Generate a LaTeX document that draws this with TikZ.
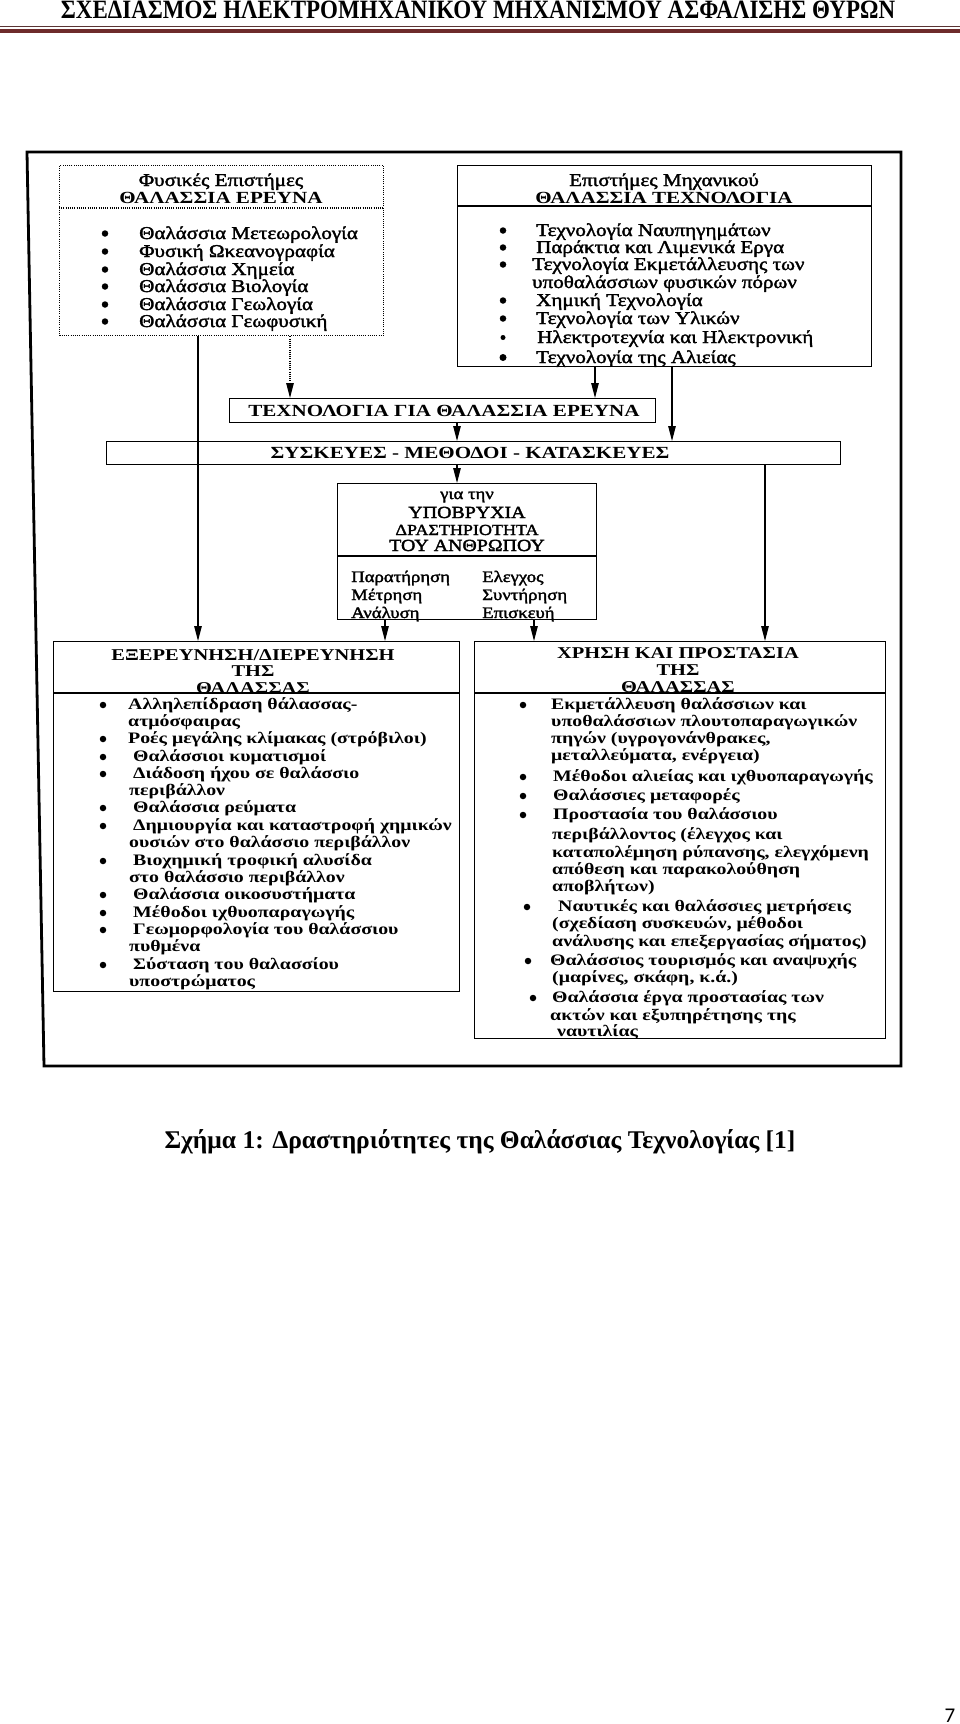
\documentclass[tikz,border=0pt]{standalone}
\usepackage{fontspec}
\usepackage{graphicx}
\setmainfont{Liberation Serif}
\newfontfamily\dfont[FakeStretch=1.24]{Liberation Serif}
\newfontfamily\rfont[FakeStretch=1.17, FakeBold=2]{Liberation Serif}
\newfontfamily\pgfont{Carlito}
\usetikzlibrary{arrows.meta}
\definecolor{hdrthick}{HTML}{6E2B2B}
\definecolor{hdrthin}{HTML}{5A3434}
\begin{document}
\begin{tikzpicture}[x=1pt,y=-1pt,
  txt/.style={inner sep=0pt, anchor=base west},
  ctxt/.style={inner sep=0pt, anchor=base},
  tfont/.style={font=\rfont\fontsize{18}{20}\selectfont},
  tbfont/.style={font=\dfont\bfseries\fontsize{17}{19}\selectfont},
  bfont/.style={font=\dfont\bfseries\fontsize{16}{18}\selectfont},
  hbfont/.style={font=\dfont\bfseries\fontsize{16.5}{18}\selectfont},
  box/.style={draw, line width=1.4pt, inner sep=0pt, anchor=north west},
  dotbox/.style={draw, line width=1.3pt, dash pattern=on 1pt off 1.2pt, inner sep=0pt, anchor=north west},
  bul/.style={circle, fill, inner sep=0pt, minimum size=6.5pt},
  arr/.style={line width=1.1pt, -{Triangle[length=15pt,width=7.5pt]}},
  dotarr/.style={arr, dash pattern=on 1pt off 1.2pt},
]
\fill[white] (0,0) rectangle (960,1724);
\useasboundingbox (0,0) rectangle (960,1724);

% ---- page header ----
\node[ctxt] (hdr) at (478,18) {\resizebox{834pt}{17.5pt}{\bfseries ΣΧΕΔΙΑΣΜΟΣ ΗΛΕΚΤΡΟΜΗΧΑΝΙΚΟΥ ΜΗΧΑΝΙΣΜΟΥ ΑΣΦΑΛΙΣΗΣ ΘΥΡΩΝ}};
\draw[hdrthin, line width=1pt] (0,26.5) -- (960,26.5);
\fill[hdrthick] (0,28.5) rectangle (960,33);

% ---- outer frame ----
\draw[line width=2.8pt, line join=miter] (27,152) -- (901,152) -- (901,1066) -- (44,1066) -- cycle;

% ---- boxes ----
\node[dotbox, minimum width=324pt, minimum height=170pt] (tl) at (59,165) {};
\node[box, minimum width=414pt, minimum height=201pt] (tr) at (457,165) {};
\node[box, minimum width=426pt, minimum height=24pt] (tech) at (229,398) {};
\node[box, minimum width=734pt, minimum height=23pt] (sus) at (106,441) {};
\node[box, minimum width=259pt, minimum height=136pt] (upo) at (337,483) {};
\node[box, minimum width=406pt, minimum height=350pt] (bl) at (53,641) {};
\node[box, minimum width=411pt, minimum height=397pt] (br) at (474,641) {};

% separators
\coordinate (s1) at (0,208);
\coordinate (s2) at (0,206);
\coordinate (s3) at (0,556);
\coordinate (s4) at (0,693);
\draw[line width=1.2pt, dash pattern=on 1pt off 1.2pt] (tl.west |- s1) -- (tl.east |- s1);
\draw[line width=1.4pt] (tr.west |- s2) -- (tr.east |- s2);
\draw[line width=1.4pt] (upo.west |- s3) -- (upo.east |- s3);
\draw[line width=1.4pt] (bl.west |- s4) -- (bl.east |- s4);
\draw[line width=1.4pt] (br.west |- s4) -- (br.east |- s4);

% ---- box headings ----
\node[ctxt, tfont] (tlh1) at (221,186) {Φυσικές Επιστήμες};
\node[ctxt, tbfont] (tlh2) at (221,203) {ΘΑΛΑΣΣΙΑ ΕΡΕΥΝΑ};
\node[ctxt, tfont] (trh1) at (664,186) {Επιστήμες Μηχανικού};
\node[ctxt, tbfont] (trh2) at (664,203) {ΘΑΛΑΣΣΙΑ ΤΕΧΝΟΛΟΓΙΑ};
\node[ctxt, tbfont] (techt) at (444,416) {ΤΕΧΝΟΛΟΓΙΑ ΓΙΑ ΘΑΛΑΣΣΙΑ ΕΡΕΥΝΑ};
\node[ctxt, tbfont] (sust) at (470,458) {ΣΥΣΚΕΥΕΣ - ΜΕΘΟΔΟΙ - ΚΑΤΑΣΚΕΥΕΣ};
\node[ctxt, font=\rfont\fontsize{16}{18}\selectfont] (upoh1) at (467,499) {για την};
\node[ctxt, font=\rfont\fontsize{17}{19}\selectfont] (upoh2) at (467,518) {ΥΠΟΒΡΥΧΙΑ};
\node[ctxt, font=\rfont\fontsize{15.4}{17}\selectfont] (upoh3) at (467,535) {ΔΡΑΣΤΗΡΙΟΤΗΤΑ};
\node[ctxt, font=\rfont\fontsize{17}{19}\selectfont] (upoh4) at (467,551) {ΤΟΥ ΑΝΘΡΩΠΟΥ};
\node[ctxt, hbfont] (blh1) at (253,660) {ΕΞΕΡΕΥΝΗΣΗ/ΔΙΕΡΕΥΝΗΣΗ};
\node[ctxt, hbfont] (blh2) at (253,676) {ΤΗΣ};
\node[ctxt, hbfont] (blh3) at (253,693) {ΘΑΛΑΣΣΑΣ};
\node[ctxt, hbfont] (brh1) at (678,658) {ΧΡΗΣΗ ΚΑΙ ΠΡΟΣΤΑΣΙΑ};
\node[ctxt, hbfont] (brh2) at (678,675) {ΤΗΣ};
\node[ctxt, hbfont] (brh3) at (678,692) {ΘΑΛΑΣΣΑΣ};

% ---- underwater activity body ----
\foreach \xx/\yy/\tt [count=\i] in {351/582/Παρατήρηση, 351/600/Μέτρηση, 351/618/Ανάλυση,
  482/582/Ελεγχος, 482/600/Συντήρηση, 482/618/Επισκευή}
  {\node[txt, font=\rfont\fontsize{16}{18}\selectfont] (upoT\i) at (\xx,\yy) {\tt};}

% ---- top-left list ----
\foreach \yy/\tt [count=\i] in {239/{Θαλάσσια Μετεωρολογία}, 257/{Φυσική Ωκεανογραφία},
  275/{Θαλάσσια Χημεία}, 292/{Θαλάσσια Βιολογία}, 310/{Θαλάσσια Γεωλογία}, 327/{Θαλάσσια Γεωφυσική}}
  {\node[txt, tfont] (tlT\i) at (139,\yy) {\tt};
   \node[bul] (tlB\i) at (105,\yy-5.5) {};}

% ---- top-right list ----
\foreach \xx/\yy/\tt [count=\i] in {536/236/{Τεχνολογία Ναυπηγημάτων}, 536/253/{Παράκτια και Λιμενικά Εργα},
  532/270/{Τεχνολογία Εκμετάλλευσης των}, 532/288/{υποθαλάσσιων φυσικών πόρων},
  536/306/{Χημική Τεχνολογία}, 536/324/{Τεχνολογία των Υλικών},
  537/343/{Ηλεκτροτεχνία και Ηλεκτρονική}, 536/363/{Τεχνολογία της Αλιείας}}
  {\node[txt, tfont] (trT\i) at (\xx,\yy) {\tt};}
\foreach \yy/\ss [count=\i] in {236/6.5, 253/6.5, 270/6.5, 306/6.5, 324/6.5, 343/5, 363/7}
  {\node[bul, minimum size=\ss pt] (trB\i) at (503,\yy-5.5) {};}

% ---- bottom-left list ----
\foreach \xx/\yy/\tt [count=\i] in {
  128/709.5/{Αλληλεπίδραση θάλασσας-}, 128/726.5/{ατμόσφαιρας},
  128/743.5/{Ροές μεγάλης κλίμακας (στρόβιλοι)}, 133/761.5/{Θαλάσσιοι κυματισμοί},
  133/778.5/{Διάδοση ήχου σε θαλάσσιο}, 129/795.5/{περιβάλλον},
  133/812.5/{Θαλάσσια ρεύματα}, 133/830.5/{Δημιουργία και καταστροφή χημικών},
  129/847.5/{ουσιών στο θαλάσσιο περιβάλλον}, 133/865.5/{Βιοχημική τροφική αλυσίδα},
  129/882.5/{στο θαλάσσιο περιβάλλον}, 133/899.5/{Θαλάσσια οικοσυστήματα},
  133/917.5/{Μέθοδοι ιχθυοπαραγωγής}, 133/934.5/{Γεωμορφολογία του θαλάσσιου},
  129/951.5/{πυθμένα}, 133/969.5/{Σύσταση του θαλασσίου}, 129/986.5/{υποστρώματος}}
  {\node[txt, bfont] (blT\i) at (\xx,\yy) {\tt};}
\foreach \yy [count=\i] in {705, 739, 757, 774, 808, 826, 861, 895, 913, 930, 965}
  {\node[bul] (blB\i) at (103,\yy) {};}

% ---- bottom-right list ----
\foreach \xx/\yy/\tt [count=\i] in {
  551/709.5/{Εκμετάλλευση θαλάσσιων και}, 551/726.5/{υποθαλάσσιων πλουτοπαραγωγικών},
  551/743.5/{πηγών (υγρογονάνθρακες,}, 551/760.5/{μεταλλεύματα, ενέργεια)},
  553/781.5/{Μέθοδοι αλιείας και ιχθυοπαραγωγής}, 553/800.5/{Θαλάσσιες μεταφορές},
  553/819.5/{Προστασία του θαλάσσιου}, 552/839.5/{περιβάλλοντος (έλεγχος και},
  552/857.5/{καταπολέμηση ρύπανσης, ελεγχόμενη}, 552/874.5/{απόθεση και παρακολούθηση},
  552/891.5/{αποβλήτων)}, 558/911.5/{Ναυτικές και θαλάσσιες μετρήσεις},
  552/928.5/{(σχεδίαση συσκευών, μέθοδοι}, 552/946.5/{ανάλυσης και επεξεργασίας σήματος)},
  550/965.5/{Θαλάσσιος τουρισμός και αναψυχής}, 552/982.5/{(μαρίνες, σκάφη, κ.ά.)},
  552/1002.5/{Θαλάσσια έργα προστασίας των}, 550/1020.5/{ακτών και εξυπηρέτησης της},
  557/1036.5/{ναυτιλίας}}
  {\node[txt, bfont] (brT\i) at (\xx,\yy) {\tt};}
\foreach \xx/\yy [count=\i] in {523/705, 523/777, 523/796, 523/815, 527/907, 528/961, 533/998}
  {\node[bul] (brB\i) at (\xx,\yy) {};}

% ---- connectors ----
\coordinate (xA) at (198,0);
\coordinate (xB) at (290,0);
\coordinate (xC) at (595,0);
\coordinate (xD) at (672,0);
\coordinate (xE) at (457,0);
\coordinate (xF) at (765,0);
\coordinate (xG) at (385,0);
\coordinate (xH) at (534,0);
\draw[arr] (xA |- tl.south) -- (xA |- bl.north);
\draw[dotarr] (xB |- tl.south) -- (xB |- tech.north);
\draw[arr] (xC |- tr.south) -- (xC |- tech.north);
\draw[arr] (xD |- tr.south) -- (xD |- sus.north);
\draw[arr] (xE |- tech.south) -- (xE |- sus.north);
\draw[arr] (xE |- sus.south) -- (xE |- upo.north);
\draw[arr] (xF |- sus.south) -- (xF |- br.north);
\draw[arr] (xG |- upo.south) -- (xG |- bl.north);
\draw[arr] (xH |- upo.south) -- (xH |- br.north);

% ---- caption and page number ----
\node[ctxt, font=\bfseries\fontsize{25.5}{28}\selectfont] (cap) at (480,1148) {Σχήμα 1: Δραστηριότητες της Θαλάσσιας Τεχνολογίας [1]};
\node[ctxt, font=\pgfont\fontsize{21}{21}\selectfont] (pg) at (950,1722) {7};
\end{tikzpicture}
\end{document}
